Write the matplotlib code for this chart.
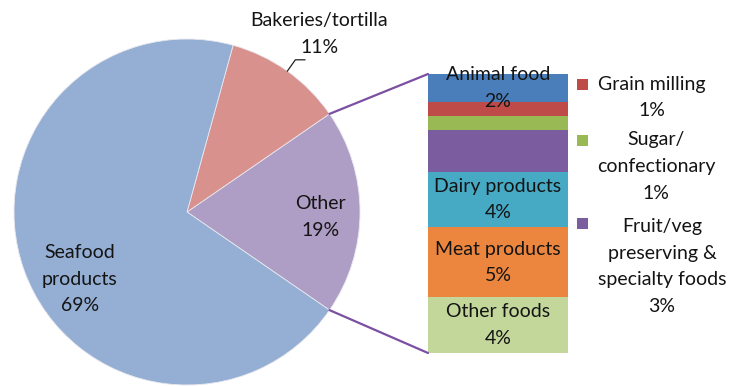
import numpy as np
import matplotlib.pyplot as plt
from matplotlib.patches import ConnectionPatch, Rectangle

plt.rcParams['font.family'] = ['Lato', 'DejaVu Sans']

# main pie
pie_labels = ['Other', 'Bakeries/tortilla', 'Seafood\nproducts']
pie_values = [19, 11, 69]
pie_colors = ['#ae9dc4', '#d9918e', '#94aed4']

# breakdown of "Other" (top to bottom)
bar_labels = ['Animal food', 'Grain milling', 'Sugar/\nconfectionary',
              'Fruit/veg\npreserving &\nspecialty foods', 'Dairy products',
              'Meat products', 'Other foods']
bar_values = [2, 1, 1, 3, 4, 5, 4]
bar_colors = ['#4a7ebb', '#be4b48', '#98b954', '#7b5c9f', '#46aac5',
              '#ec863f', '#c4d79b']
in_bar = [True, False, False, False, True, True, True]

W, H = 743, 386
fig = plt.figure(figsize=(W / 100, H / 100), dpi=100)
txt = '#141414'
fs = 14
ls = 1.68

# pie axes spans the whole figure, 1 unit = pie radius
R, cx, cy = 173, 187, 212
ax = fig.add_axes([0, 0, 1, 1])
wedges, _ = ax.pie(pie_values, colors=pie_colors,
                   startangle=-pie_values[0] / sum(pie_values) * 180,
                   wedgeprops=dict(edgecolor='#e8e8ee', linewidth=0.6))
ax.set_xlim(-cx / R, (W - cx) / R)
ax.set_ylim(-(H - cy) / R, cy / R)
ax.set_aspect('auto')
ax.axis('off')

ax.text(0.77, -0.03, f'{pie_labels[0]}\n{pie_values[0]}%', ha='center', va='center',
        fontsize=fs, color=txt, linespacing=ls)
ax.text(-0.62, -0.39, f'{pie_labels[2]}\n{pie_values[2]}%', ha='center', va='center',
        fontsize=fs, color=txt, linespacing=ls)
ax.text(0.765, 1.03, f'{pie_labels[1]}\n{pie_values[1]}%', ha='center', va='center',
        fontsize=fs, color=txt, linespacing=ls)

# leader line for the bakeries slice
w = wedges[1]
mid = np.deg2rad((w.theta1 + w.theta2) / 2)
p0 = (np.cos(mid), np.sin(mid))
p1 = (1.08 * np.cos(mid), 1.08 * np.sin(mid))
p2 = (p1[0] + 0.055, p1[1])
ax.plot([p0[0], p1[0], p2[0]], [p0[1], p1[1], p2[1]], color='#222222', lw=0.9, clip_on=False)

# stacked bar for the "Other" breakdown
bx = fig.add_axes([428 / W, 33 / H, 140 / W, 279 / H])
total = sum(bar_values)
top = total
for lab, val, col, inside in zip(bar_labels, bar_values, bar_colors, in_bar):
    bx.bar(0, val, bottom=top - val, width=1, color=col, linewidth=0)
    if inside:
        bx.text(0, top - val / 2, f'{lab}\n{val}%', ha='center', va='center',
                fontsize=fs, color=txt, linespacing=ls)
    top -= val
bx.set_xlim(-0.5, 0.5)
bx.set_ylim(0, total)
bx.axis('off')

# connector lines from the "Other" slice to the bar
w = wedges[0]
for ang, yb in [(w.theta2, total), (w.theta1, 0)]:
    a = np.deg2rad(ang)
    con = ConnectionPatch(xyA=(np.cos(a), np.sin(a)), coordsA=ax.transData,
                          xyB=(-0.5, yb), coordsB=bx.transData,
                          color='#7b4fa2', lw=1.6)
    fig.add_artist(con)

# legend for the small segments (marker y, text x, text y in pixels)
legend_pos = [(84.5, 652, 97.5), (140, 656, 166.5), (223, 662, 266.5)]
small = [(l, v, c) for l, v, c, i in zip(bar_labels, bar_values, bar_colors, in_bar) if not i]
for (my, tx, ty), (lab, val, col) in zip(legend_pos, small):
    fig.add_artist(Rectangle(((582 - 5.5) / W, 1 - (my + 5.5) / H), 11 / W, 11 / H,
                             transform=fig.transFigure, color=col, lw=0))
    fig.text(tx / W, 1 - ty / H, f'{lab}\n{val}%', ha='center', va='center',
             multialignment='center', fontsize=fs, color=txt, linespacing=ls)

fig.savefig('out.png', dpi=100)
